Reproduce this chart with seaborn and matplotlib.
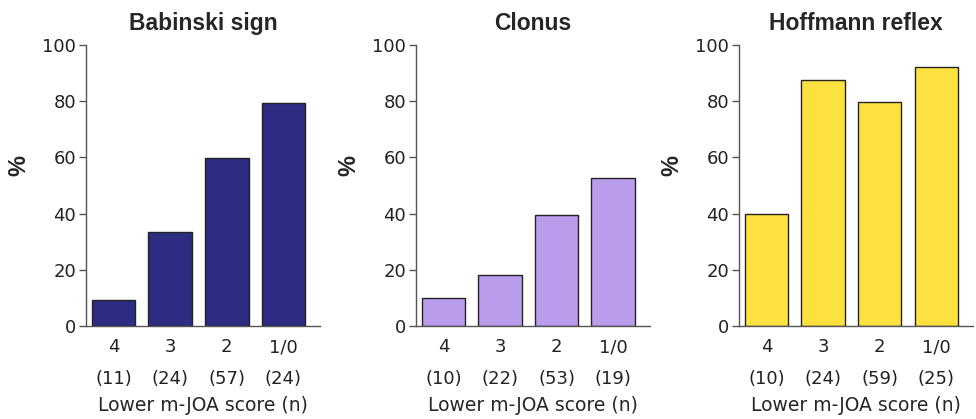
import matplotlib
matplotlib.use("Agg")
import matplotlib.pyplot as plt
import seaborn as sns
import pandas as pd

sns.set_theme(style="white")
plt.rcParams['font.family'] = ['DejaVu Sans']

# data
scores = ['4', '3', '2', '1/0']
babinski_n = [11, 24, 57, 24]
babinski_pct = [9.1, 33.3, 59.6, 79.2]
clonus_n = [10, 22, 53, 19]
clonus_pct = [10.0, 18.2, 39.6, 52.6]
hoffmann_n = [10, 24, 59, 25]
hoffmann_pct = [40.0, 87.5, 79.7, 92.0]

titles = ['Babinski sign', 'Clonus', 'Hoffmann reflex']
colors = ['#2B2C82', '#B99DEC', '#FDE23F']

panels = [(babinski_n, babinski_pct), (clonus_n, clonus_pct), (hoffmann_n, hoffmann_pct)]
lefts = [0.088, 0.426, 0.757]

fig = plt.figure(figsize=(9.76, 4.19), dpi=100)

for i, (n, pct) in enumerate(panels):
    ax = fig.add_axes([lefts[i], 0.222, 0.240, 0.671])
    df = pd.DataFrame({'cat': [f'{s}\n({k})' for s, k in zip(scores, n)], 'pct': pct})
    sns.barplot(data=df, x='cat', y='pct', color=colors[i], saturation=1,
                edgecolor='#222222', linewidth=1.0, width=0.77, ax=ax)
    ax.set_xlim(-0.49, 3.65)
    ax.set_ylim(0, 100)
    ax.set_yticks([0, 20, 40, 60, 80, 100])
    ax.set_title(titles[i], fontsize=16.5, fontweight='bold', pad=11,
                 family='Liberation Sans')
    ax.set_ylabel('%', fontsize=17, fontweight='bold', family='Liberation Sans')
    ax.yaxis.set_label_coords(-0.235, 0.57)
    ax.set_xlabel('Lower m-JOA score (n)', fontsize=13.5, labelpad=6)
    sns.despine(ax=ax)
    for sp in ['left', 'bottom']:
        ax.spines[sp].set_color('#555555')
        ax.spines[sp].set_linewidth(1.0)
    ax.tick_params(axis='y', left=True, length=5, width=1, color='#555555',
                   labelsize=13, pad=2, labelcolor='#222222')
    ax.tick_params(axis='x', bottom=False, labelsize=13, pad=3, labelcolor='#222222')
    for lbl in ax.get_xticklabels():
        lbl.set_linespacing(1.95)

fig.savefig('out.png', dpi=100)
